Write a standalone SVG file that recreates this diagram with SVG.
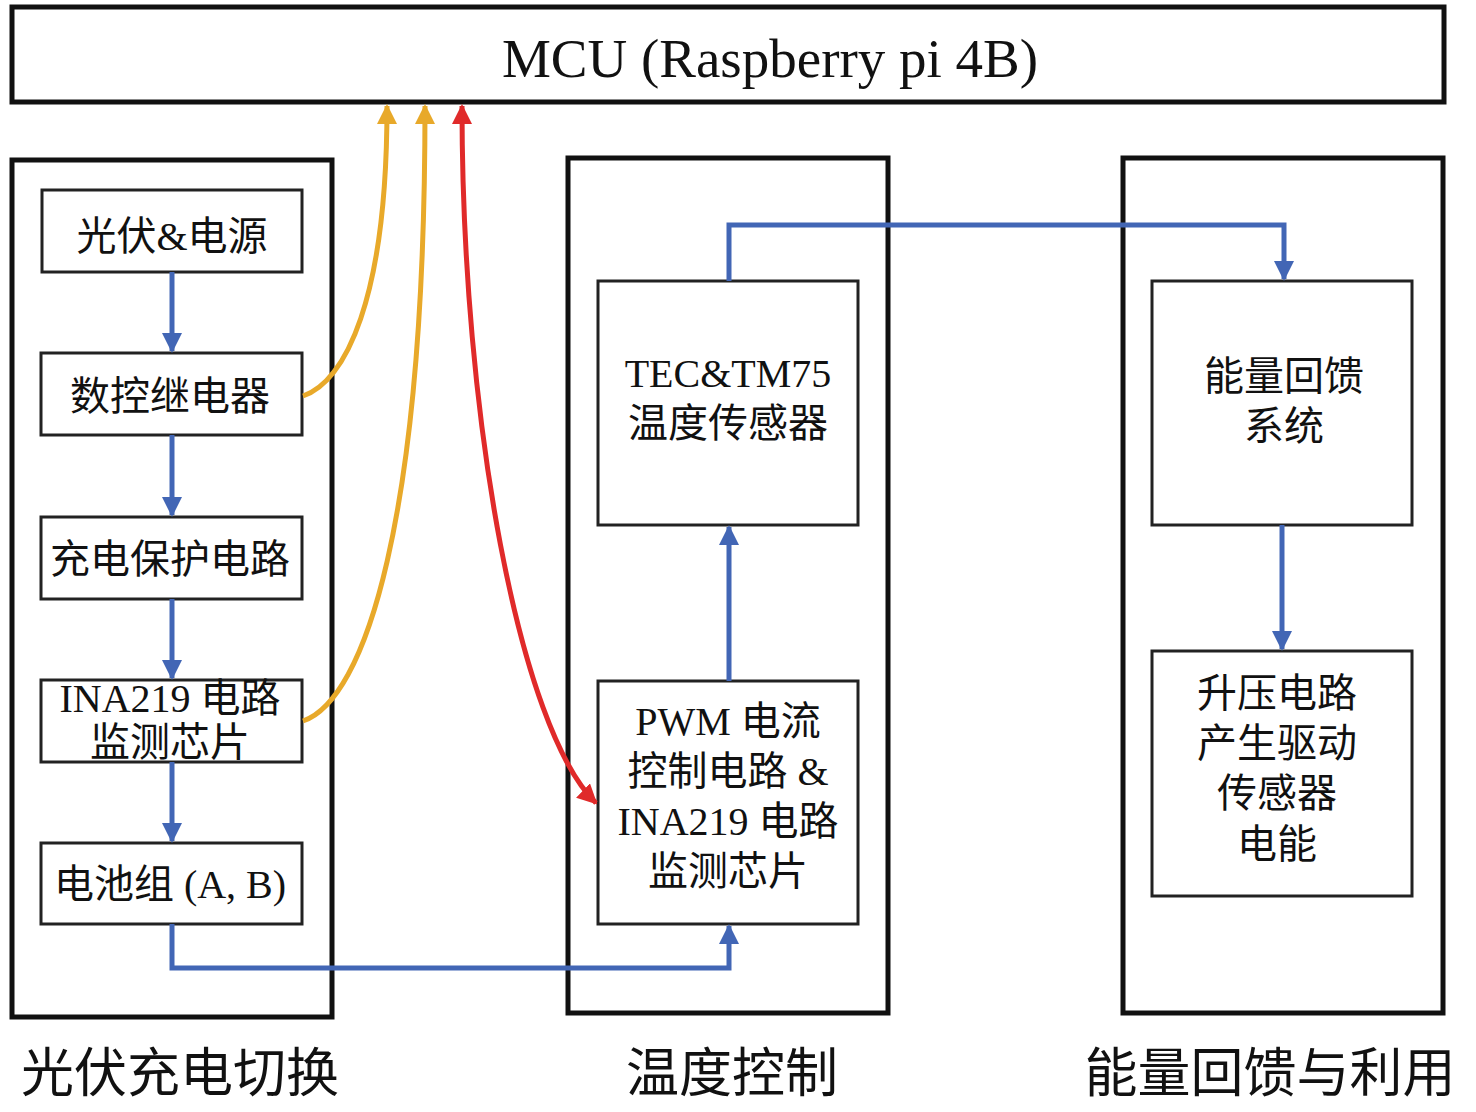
<svg xmlns="http://www.w3.org/2000/svg" width="1476" height="1112" viewBox="0 0 1476 1112">
<defs>
<style>
.panel{fill:none;stroke:#111;stroke-width:5}
.box{fill:#fff;stroke:#222;stroke-width:3}
.t{font-family:"Liberation Serif","Noto Sans CJK SC",serif;font-size:40px;fill:#111;text-anchor:middle}
.cap{font-family:"Liberation Serif","Noto Sans CJK SC",serif;font-size:53px;fill:#111;text-anchor:middle}
.blue{fill:none;stroke:#4266b5;stroke-width:5}
.yel{fill:none;stroke:#e8a92a;stroke-width:5}
.red{fill:none;stroke:#e02a2a;stroke-width:5}
</style>
<marker id="ab" viewBox="0 0 10 10" refX="9" refY="5" markerWidth="4" markerHeight="4" orient="auto" markerUnits="strokeWidth"><path d="M0,0 L10,5 L0,10 z" fill="#4266b5"/></marker>
<marker id="ay" viewBox="0 0 10 10" refX="9" refY="5" markerWidth="4" markerHeight="4" orient="auto" markerUnits="strokeWidth"><path d="M0,0 L10,5 L0,10 z" fill="#e8a92a"/></marker>
<marker id="ar" viewBox="0 0 10 10" refX="9" refY="5" markerWidth="4" markerHeight="4" orient="auto-start-reverse" markerUnits="strokeWidth"><path d="M0,0 L10,5 L0,10 z" fill="#e02a2a"/></marker>
</defs>
<rect width="1476" height="1112" fill="#fff"/>
<g id="mcu"><rect class="panel" x="12" y="7" width="1432" height="95"/><text class="t" style="font-size:55px" x="770" y="77">MCU (Raspberry pi 4B)</text></g>
<g id="panel-left"><rect class="panel" x="12" y="160" width="320" height="857"/></g>
<g id="panel-mid"><rect class="panel" x="568" y="158" width="320" height="855"/></g>
<g id="panel-right"><rect class="panel" x="1123" y="158" width="320" height="855"/></g>
<g id="n-pv"><rect class="box" x="42" y="190" width="260" height="82"/><text class="t" x="172" y="250">光伏&amp;电源</text></g>
<g id="n-relay"><rect class="box" x="41" y="353" width="261" height="82"/><text class="t" x="170" y="410">数控继电器</text></g>
<g id="n-charge"><rect class="box" x="41" y="517" width="261" height="82"/><text class="t" x="170" y="573">充电保护电路</text></g>
<g id="n-ina"><rect class="box" x="41" y="680" width="261" height="82"/><text class="t" x="170" y="712">INA219 电路</text><text class="t" x="170" y="756">监测芯片</text></g>
<g id="n-bat"><rect class="box" x="41" y="843" width="261" height="81"/><text class="t" x="170" y="898">电池组 (A, B)</text></g>
<g id="n-tec"><rect class="box" x="598" y="281" width="260" height="244"/><text class="t" x="728" y="387">TEC&amp;TM75</text><text class="t" x="728" y="437">温度传感器</text></g>
<g id="n-pwm"><rect class="box" x="598" y="681" width="260" height="243"/><text class="t" x="728" y="735">PWM 电流</text><text class="t" x="728" y="785">控制电路 &amp;</text><text class="t" x="728" y="835">INA219 电路</text><text class="t" x="728" y="885">监测芯片</text></g>
<g id="n-fb"><rect class="box" x="1152" y="281" width="260" height="244"/><text class="t" x="1284" y="390">能量回馈</text><text class="t" x="1284" y="440">系统</text></g>
<g id="n-boost"><rect class="box" x="1152" y="651" width="260" height="245"/><text class="t" x="1277" y="707">升压电路</text><text class="t" x="1277" y="757">产生驱动</text><text class="t" x="1277" y="807">传感器</text><text class="t" x="1277" y="858">电能</text></g>
<g id="connectors">
<path class="blue" d="M172,272 V351" marker-end="url(#ab)"/>
<path class="blue" d="M172,435 V515" marker-end="url(#ab)"/>
<path class="blue" d="M172,599 V678" marker-end="url(#ab)"/>
<path class="blue" d="M172,762 V841" marker-end="url(#ab)"/>
<path class="blue" d="M172,924 V968 H729 V926" marker-end="url(#ab)"/>
<path class="blue" d="M729,681 V527" marker-end="url(#ab)"/>
<path class="blue" d="M729,281 V225 H1284 V279" marker-end="url(#ab)"/>
<path class="blue" d="M1282,525 V649" marker-end="url(#ab)"/>
<path class="yel" d="M303,396 C345,382 387,300 387,106" marker-end="url(#ay)"/>
<path class="yel" d="M303,721 C365,700 425,520 425,106" marker-end="url(#ay)"/>
<path class="red" d="M462,106 C462,420 520,730 596,803" marker-start="url(#ar)" marker-end="url(#ar)"/>
</g>
<g id="captions">
<text class="cap" x="180" y="1092">光伏充电切换</text>
<text class="cap" x="732" y="1092">温度控制</text>
<text class="cap" x="1270" y="1092">能量回馈与利用</text>
</g>
</svg>
